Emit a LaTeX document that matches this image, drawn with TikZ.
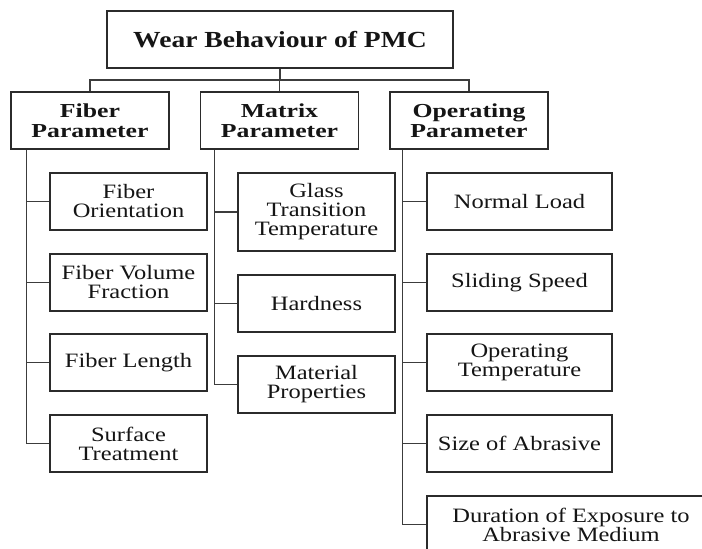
\documentclass[tikz,border=0pt]{standalone}
\usepackage{fontspec}
\newfontfamily\serifwide{Liberation Serif}[FakeStretch=1.2]
\newfontfamily\serifwider{Liberation Serif}[FakeStretch=1.3]
\definecolor{boxline}{HTML}{2B2B2B}
\definecolor{linkcol}{HTML}{3C3C3C}
\definecolor{textcol}{HTML}{151515}
\tikzset{
  box/.style={draw=boxline, line width=1.6pt, inner sep=0pt, align=center, text=textcol, fill=white},
  titlebox/.style={box, minimum width=346pt, minimum height=57pt,
    font=\serifwide\bfseries\fontsize{23}{26}\selectfont},
  groupbox/.style={box, minimum width=158pt, minimum height=57pt,
    font=\serifwider\bfseries\fontsize{19.8}{19.5}\selectfont},
  itembox/.style={box, minimum width=157pt, minimum height=57pt,
    font=\serifwide\fontsize{20.4}{19}\selectfont},
  opbox/.style={itembox, minimum width=185pt},
  link/.style={draw=linkcol, line width=1.3pt},
}
\begin{document}
\begin{tikzpicture}[x=1pt, y=-1pt]
\useasboundingbox[fill=white] (0,0) rectangle (702,549);
\begin{scope}
\clip (0,0) rectangle (702,549);

% root and the three parameter groups
\node[titlebox] (root) at (280,39.5) {Wear Behaviour of PMC};
\node[groupbox] (fib) at (90,120.5)  {Fiber\\Parameter};
\node[groupbox] (mat) at (279.5,120.5) {Matrix\\Parameter};
\node[groupbox] (ope) at (469,120.5) {Operating\\Parameter};

% fiber parameters
\node[itembox] (f1) at (128.5,201.5) {Fiber\\Orientation};
\node[itembox] (f2) at (128.5,282.5) {Fiber Volume\\Fraction};
\node[itembox] (f3) at (128.5,362.5) {Fiber Length};
\node[itembox] (f4) at (128.5,443.5) {Surface\\Treatment};

% matrix parameters
\node[itembox, minimum height=78pt] (m1) at (316.5,212) {Glass\\Transition\\Temperature};
\node[itembox] (m2) at (316.5,303.5) {Hardness};
\node[itembox] (m3) at (316.5,384.5) {Material\\Properties};

% operating parameters
\node[opbox] (o1) at (519.5,201.5) {Normal Load};
\node[opbox] (o2) at (519.5,282.5) {Sliding Speed};
\node[opbox] (o3) at (519.5,362.5) {Operating\\Temperature};
\node[opbox] (o4) at (519.5,443.5) {Size of Abrasive};
\node[opbox, minimum width=288pt] (o5) at (571,524.5) {Duration of Exposure to\\Abrasive Medium};

% root to groups
\coordinate (bus) at (280,80);
\draw[link] (root.south) -- (bus);
\draw[link] (fib.north) |- (bus) -| (ope.north);
\draw[link] (mat.north) -- (mat.north |- bus);

% group spines
\coordinate (fs) at ([xshift=16pt]fib.south west);
\coordinate (ms) at ([xshift=15pt]mat.south west);
\coordinate (os) at ([xshift=13pt]ope.south west);
\draw[link] (fs) |- (f4.west);
\foreach \n in {f1,f2,f3} \draw[link] (fs |- \n.west) -- (\n.west);
\draw[link] (ms) |- (m3.west);
\foreach \n in {m1,m2} \draw[link] (ms |- \n.west) -- (\n.west);
\draw[link] (os) |- (o5.west);
\foreach \n in {o1,o2,o3,o4} \draw[link] (os |- \n.west) -- (\n.west);
\end{scope}
\end{tikzpicture}
\end{document}
